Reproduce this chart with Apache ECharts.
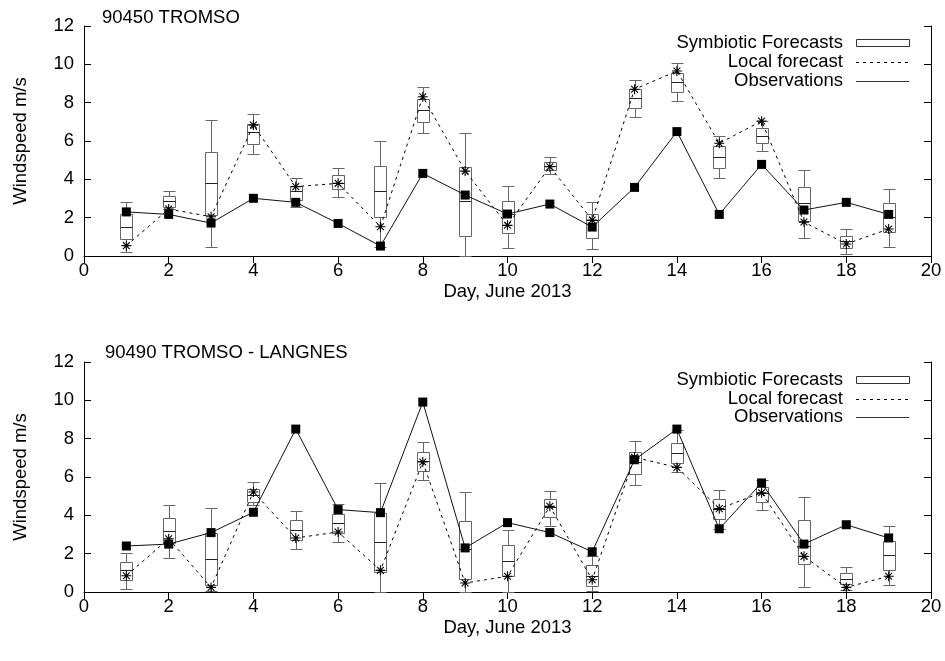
<!DOCTYPE html>
<html><head><meta charset="utf-8">
<script src="https://cdn.jsdelivr.net/npm/echarts@6/dist/echarts.min.js"></script>
<style>html,body{margin:0;padding:0;background:#fff}#c{width:945px;height:661px}</style>
</head><body><div id="c"></div>
<script>
// ---------------- data ----------------
const days = [1,2,3,4,5,6,7,8,9,10,11,12,13,14,15,16,17,18,19];
const titles = ['90450 TROMSO', '90490 TROMSO - LANGNES'];
const legendNames = ['Symbiotic Forecasts', 'Local forecast', 'Observations'];
const xName = 'Day, June 2013';
const yName = 'Windspeed m/s';

// Station 90450 TROMSO
const top_min   = [0.19,2.43,0.49,5.32,2.54,3.10,0.45,6.40,0.00,0.40,4.26,0.37,7.27,8.09,4.05,5.50,0.96,0.09,0.49];
const top_q1    = [0.87,2.57,2.14,5.84,2.92,3.48,2.05,6.97,1.06,1.22,4.49,0.96,7.74,8.56,4.59,5.88,1.83,0.40,1.23];
const top_med   = [1.53,2.85,3.79,6.45,3.37,3.83,3.39,7.62,2.85,2.17,4.71,1.88,8.23,9.08,5.18,6.26,2.75,0.80,2.05];
const top_q3    = [2.17,3.11,5.44,6.90,3.67,4.21,4.71,8.19,4.63,2.85,4.90,2.17,8.70,9.53,5.74,6.66,3.58,1.06,2.75];
const top_max   = [2.83,3.39,7.11,7.43,4.07,4.59,6.02,8.80,6.40,3.67,5.15,2.80,9.17,10.05,6.24,7.04,4.47,1.39,3.48];
const top_local = [0.54,2.45,2.05,6.83,3.62,3.79,1.53,8.31,4.43,1.60,4.66,1.88,8.70,9.65,5.88,7.04,1.77,0.63,1.41];
const top_obs   = [2.30,2.17,1.72,3.01,2.80,1.70,0.52,4.31,3.18,2.19,2.71,1.51,3.58,6.49,2.17,4.78,2.40,2.80,2.17];

// Station 90490 TROMSO - LANGNES
const bot_min   = [0.17,1.79,0.03,4.56,2.24,2.61,0.00,5.83,0.00,0.00,3.46,0.03,5.58,6.24,3.30,4.30,0.28,0.09,0.38];
const bot_q1    = [0.64,2.56,0.38,4.68,2.73,3.10,1.04,6.31,0.70,0.82,3.91,0.30,6.17,6.75,3.83,4.70,1.46,0.42,1.15];
const bot_med   = [1.13,3.17,1.72,5.04,3.23,3.60,2.61,6.82,2.25,1.63,4.42,0.85,6.77,7.25,4.35,5.17,2.38,0.68,1.91];
const bot_q3    = [1.57,3.84,3.06,5.37,3.74,4.09,4.12,7.32,3.72,2.43,4.85,1.41,7.32,7.76,4.83,5.46,3.77,0.99,2.68];
const bot_max   = [2.05,4.52,4.37,5.74,4.24,4.59,5.67,7.83,5.23,3.23,5.29,1.90,7.90,8.47,5.34,5.86,4.94,1.29,3.43];
const bot_local = [0.85,2.78,0.24,5.22,2.82,3.13,1.13,6.78,0.47,0.82,4.47,0.64,7.03,6.50,4.35,5.18,1.86,0.24,0.82];
const bot_obs   = [2.40,2.50,3.10,4.16,8.50,4.30,4.14,9.91,2.30,3.62,3.10,2.10,6.90,8.50,3.30,5.69,2.50,3.51,2.82];

const xMin = 0, xMax = 20, xStep = 2;
const yMin = 0, yMax = 12, yStep = 2;

// ---------------- styling / layout ----------------
const FONT = '"Liberation Sans", Arial, Helvetica, sans-serif';
const FS = 18.5;
const BOX_W = 0.3;           // box width in day units
const BOX_COLOR = '#666';
const ASTERISK = 'path://M5,0L5,10M0,5L10,5M1.6,1.6L8.4,8.4M8.4,1.6L1.6,8.4';

const grids = [
  {left: 84, width: 847, top: 26, height: 230},
  {left: 84, width: 847, top: 362, height: 230}
];

function renderBox(params, api) {
  const x = api.value(0);
  const pMin = api.coord([x, api.value(1)]);
  const pQ1 = api.coord([x, api.value(2)]);
  const pMed = api.coord([x, api.value(3)]);
  const pQ3 = api.coord([x, api.value(4)]);
  const pMax = api.coord([x, api.value(5)]);
  const w = api.size([BOX_W, 0])[0];
  const cx = Math.round(pMed[0]) + 0.5;
  const l = Math.round(cx - w / 2) + 0.5, r = Math.round(cx + w / 2) - 0.5;
  const st = {stroke: BOX_COLOR, lineWidth: 1, fill: null};
  const ln = (x1, y1, x2, y2, s) => ({type: 'line', shape: {x1, y1, x2, y2}, style: s || st});
  const ry = v => Math.round(v) + 0.5;
  return {
    type: 'group',
    children: [
      ln(cx, ry(pMax[1]), cx, ry(pQ3[1])),
      ln(cx, ry(pQ1[1]), cx, ry(pMin[1])),
      ln(l, ry(pMax[1]), r, ry(pMax[1])),
      ln(l, ry(pMin[1]), r, ry(pMin[1])),
      {type: 'rect', shape: {x: l, y: ry(pQ3[1]), width: r - l, height: ry(pQ1[1]) - ry(pQ3[1])}, style: {stroke: BOX_COLOR, lineWidth: 1, fill: null}},
      ln(l, ry(pMed[1]), r, ry(pMed[1]), {stroke: '#222', lineWidth: 1})
    ]
  };
}

const xAxes = [], yAxes = [], series = [], graphics = [];
const panels = [
  {mn: top_min, q1: top_q1, md: top_med, q3: top_q3, mx: top_max, loc: top_local, obs: top_obs},
  {mn: bot_min, q1: bot_q1, md: bot_med, q3: bot_q3, mx: bot_max, loc: bot_local, obs: bot_obs}
];

panels.forEach((p, gi) => {
  xAxes.push({
    type: 'value', gridIndex: gi, min: xMin, max: xMax, interval: xStep,
    name: xName, nameLocation: 'middle', nameGap: 26,
    nameTextStyle: {fontSize: FS, color: '#000', fontFamily: FONT},
    axisLine: {show: true, onZero: false, lineStyle: {color: '#000', width: 1}},
    axisTick: {show: true, inside: false, length: 7, lineStyle: {color: '#000'}},
    axisLabel: {fontSize: FS, color: '#000', fontFamily: FONT, margin: 5},
    splitLine: {show: false}
  });
  yAxes.push({
    type: 'value', gridIndex: gi, min: yMin, max: yMax, interval: yStep, position: 'left',
    name: yName, nameLocation: 'middle', nameGap: 54, nameRotate: 90,
    nameTextStyle: {fontSize: FS, color: '#000', fontFamily: FONT},
    axisLine: {show: true, onZero: false, lineStyle: {color: '#000', width: 1}},
    axisTick: {show: true, inside: true, length: 7, lineStyle: {color: '#000'}},
    axisLabel: {fontSize: FS, color: '#000', fontFamily: FONT, margin: 10},
    splitLine: {show: false}
  });
  yAxes.push({
    type: 'value', gridIndex: gi, min: yMin, max: yMax, interval: yStep, position: 'right',
    axisLine: {show: true, onZero: false, lineStyle: {color: '#000', width: 1}},
    axisTick: {show: true, inside: true, length: 7, lineStyle: {color: '#000'}},
    axisLabel: {show: false}, splitLine: {show: false}
  });
  const yi = gi * 2;
  series.push({
    name: legendNames[0], type: 'custom', xAxisIndex: gi, yAxisIndex: yi, z: 1,
    renderItem: renderBox, clip: false,
    data: days.map((d, i) => [d, p.mn[i], p.q1[i], p.md[i], p.q3[i], p.mx[i]])
  });
  series.push({
    name: legendNames[1], type: 'line', xAxisIndex: gi, yAxisIndex: yi, z: 3,
    data: days.map((d, i) => [d, p.loc[i]]),
    symbol: ASTERISK, symbolSize: 10,
    itemStyle: {color: '#000', borderColor: '#000', borderWidth: 1.1},
    lineStyle: {color: '#000', width: 1, type: [3, 4]},
    emphasis: {disabled: true}
  });
  series.push({
    name: legendNames[2], type: 'line', xAxisIndex: gi, yAxisIndex: yi, z: 4,
    data: days.map((d, i) => [d, p.obs[i]]),
    symbol: 'rect', symbolSize: 9,
    itemStyle: {color: '#000'},
    lineStyle: {color: '#111', width: 1},
    emphasis: {disabled: true}
  });

  // legend (gnuplot style: right-aligned text, sample on the right)
  const rows = gi === 0 ? [43, 62, 81] : [380, 399, 417];
  const tx = 843, sx1 = 856, sx2 = 909;
  legendNames.forEach((nm, k) => {
    graphics.push({type: 'text', x: tx, y: rows[k], style: {text: nm, font: FS + 'px ' + FONT, fill: '#000', align: 'right', verticalAlign: 'middle'}});
  });
  graphics.push({type: 'rect', shape: {x: sx1 + 0.5, y: rows[0] - 3.5, width: sx2 - sx1, height: 7}, style: {stroke: '#333', fill: null, lineWidth: 1}});
  graphics.push({type: 'line', shape: {x1: sx1, y1: rows[1] + 0.5, x2: sx2, y2: rows[1] + 0.5}, style: {stroke: '#000', lineWidth: 1, lineDash: [3, 4]}});
  graphics.push({type: 'line', shape: {x1: sx1, y1: rows[2] + 0.5, x2: sx2, y2: rows[2] + 0.5}, style: {stroke: '#333', lineWidth: 1}});
});

const chart = echarts.init(document.getElementById('c'));
chart.setOption({
  animation: false,
  backgroundColor: '#fff',
  title: [
    {text: titles[0], left: 102, top: 8, padding: 0, textStyle: {fontSize: FS, fontWeight: 'normal', color: '#000', fontFamily: FONT}},
    {text: titles[1], left: 105, top: 343, padding: 0, textStyle: {fontSize: FS, fontWeight: 'normal', color: '#000', fontFamily: FONT}}
  ],
  grid: grids,
  xAxis: xAxes,
  yAxis: yAxes,
  series: series,
  graphic: graphics
});
</script></body></html>
